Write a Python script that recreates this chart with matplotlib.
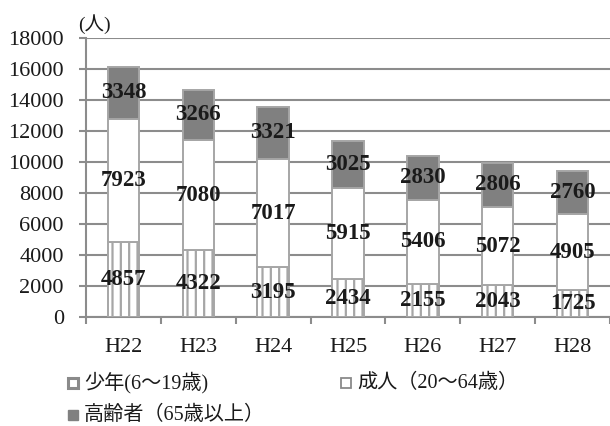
import matplotlib
matplotlib.use("Agg")
import matplotlib.pyplot as plt
from matplotlib.patches import Rectangle
import numpy as np

# Population by age group (persons)
years = ["H22", "H23", "H24", "H25", "H26", "H27", "H28"]
youth = [4857, 4322, 3195, 2434, 2155, 2043, 1725]      # 少年(6〜19歳)
adult = [7923, 7080, 7017, 5915, 5406, 5072, 4905]      # 成人（20〜64歳）
elderly = [3348, 3266, 3321, 3025, 2830, 2806, 2760]    # 高齢者（65歳以上）
yticks = [0, 2000, 4000, 6000, 8000, 10000, 12000, 14000, 16000, 18000]

legend_labels = ["少年(6〜19歳)", "成人（20〜64歳）", "高齢者（65歳以上）"]

SERIF = "Liberation Serif"
MIXED = ["Liberation Serif", "Noto Sans CJK JP", "DejaVu Sans"]
GRID = "#8c8c8c"
EDGE = "#a6a6a6"
DARK = "#808080"
INK = "#1a1a1a"

plt.rcParams["hatch.color"] = "#9a9a9a"
plt.rcParams["hatch.linewidth"] = 1.6

W, H = 610, 426
fig = plt.figure(figsize=(W / 100, H / 100), dpi=100)
ax = fig.add_axes([86 / W, 1 - 317 / H, 524 / W, (317 - 38) / H])

x = np.arange(len(years))
bw = 0.42
youth_a = np.array(youth)
adult_a = np.array(adult)
eld_a = np.array(elderly)

ax.bar(x, youth_a, bw, color="white", edgecolor=EDGE, linewidth=1.4,
       hatch="||", zorder=3)
ax.bar(x, adult_a, bw, bottom=youth_a, color="white", edgecolor=EDGE,
       linewidth=1.4, zorder=3)
ax.bar(x, eld_a, bw, bottom=youth_a + adult_a, color=DARK, edgecolor=EDGE,
       linewidth=1.4, zorder=3)

# value labels at segment centres
for i in range(len(years)):
    segs = [(0, youth_a[i]), (youth_a[i], adult_a[i]),
            (youth_a[i] + adult_a[i], eld_a[i])]
    for b, v in segs:
        ax.text(x[i], b + v / 2, f"{v}", ha="center", va="center",
                family=SERIF, fontsize=16.5, fontweight="bold",
                color=INK, zorder=5)

ax.set_xlim(-0.5, len(years) - 0.5)
ax.set_ylim(0, 18000)
ax.set_yticks(yticks)
ax.set_yticklabels([str(t) for t in yticks], family=SERIF, fontsize=16,
                   color=INK)
ax.yaxis.grid(True, color=GRID, linewidth=1.5, zorder=0)
ax.set_axisbelow(True)

# category labels centred, tick marks on category boundaries
ax.set_xticks(x)
ax.set_xticklabels(years, family=SERIF, fontsize=16, color=INK)
ax.tick_params(axis="x", length=0, pad=15)
ax.set_xticks(np.arange(-0.5, len(years), 1.0), minor=True)
ax.tick_params(axis="x", which="minor", length=5, width=1.5, color=GRID,
               direction="out")
ax.tick_params(axis="y", length=5, width=1.5, color=GRID, direction="out",
               pad=11)

for s in ["top", "right"]:
    ax.spines[s].set_visible(False)
for s in ["left", "bottom"]:
    ax.spines[s].set_color(GRID)
    ax.spines[s].set_linewidth(1.5)

# unit label
fig.text(78 / W, 1 - 24 / H, "(人)", family=MIXED, fontsize=14,
         ha="left", va="center", color=INK)


# legend entries drawn in figure pixels
def legend_item(px, py, label, kind):
    s = 10
    if kind == "dark":
        fc, ec, lw = DARK, DARK, 1.0
    elif kind == "hatch":
        fc, ec, lw = "white", "#8a8a8a", 2.2
    else:
        fc, ec, lw = "white", "#8a8a8a", 1.3
    r = Rectangle((px / W, 1 - (py + s / 2) / H), s / W, s / H,
                  transform=fig.transFigure, facecolor=fc, edgecolor=ec,
                  linewidth=lw)
    fig.patches.append(r)
    fig.text((px + s + 6) / W, 1 - py / H, label, family=MIXED, fontsize=14.5,
             ha="left", va="center", color=INK)


legend_item(68, 383, legend_labels[0], "hatch")
legend_item(341, 383, legend_labels[1], "plain")
legend_item(68, 415, legend_labels[2], "dark")

fig.savefig("out.png", dpi=100)
